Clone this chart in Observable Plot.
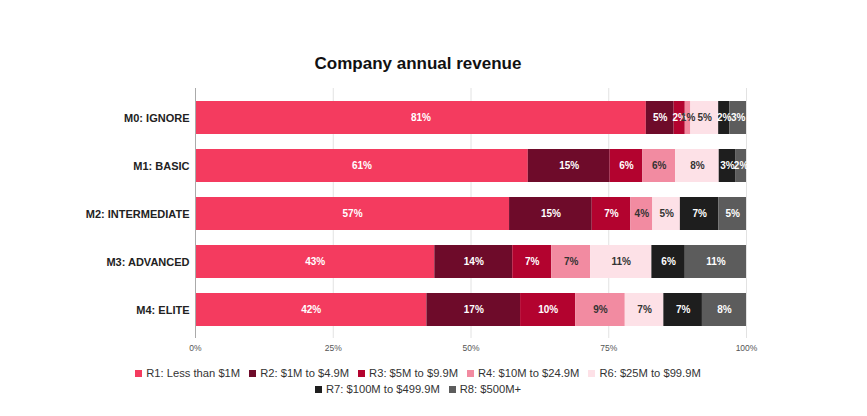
<!DOCTYPE html>
<html><head><meta charset="utf-8">
<script src="https://cdn.jsdelivr.net/npm/d3@7"></script>
<script src="https://cdn.jsdelivr.net/npm/@observablehq/plot@0.6"></script>
<style>
body{margin:0;background:#fff;font-family:"Liberation Sans",Arial,sans-serif;}
#wrap{width:867px;height:416px;position:relative;}
#title{position:absolute;top:52px;left:0;width:836px;text-align:center;font-weight:bold;font-size:17px;color:#111;line-height:24px;}
#chart{position:absolute;top:78px;left:0;}
#legend{position:absolute;top:365px;left:0;width:836px;font-size:11.2px;color:#333;line-height:16px;}
.row{display:flex;justify-content:center;gap:9px;}
.item{display:flex;align-items:center;gap:4px;white-space:nowrap;}
.sw{width:7px;height:7px;display:inline-block;}
</style></head>
<body><div id="wrap"><div id="title">Company annual revenue</div><div id="chart"></div><div id="legend"></div></div>
<script>
const models = ["M0: IGNORE","M1: BASIC","M2: INTERMEDIATE","M3: ADVANCED","M4: ELITE"];
const ranges = ["R1: Less than $1M","R2: $1M to $4.9M","R3: $5M to $9.9M","R4: $10M to $24.9M","R6: $25M to $99.9M","R7: $100M to $499.9M","R8: $500M+"];
const colors = ["#f43b5f","#6e0b2a","#b3032f","#f28ba1","#fde1e7","#1e1e1e","#5c5c5c"];
const r1 = [81,61,57,43,42];
const r2 = [5,15,15,14,17];
const r3 = [2,6,7,7,10];
const r4 = [1,6,4,7,9];
const r6 = [5,8,5,11,7];
const r7 = [2,3,7,6,7];
const r8 = [3,2,5,11,8];
const xTicks = [0,0.25,0.5,0.75,1];
const lightSeries = ["R4: $10M to $24.9M","R6: $25M to $99.9M"];

const series = [r1,r2,r3,r4,r6,r7,r8];
const data = [];
models.forEach((m,i)=>series.forEach((s,j)=>data.push({model:m, range:ranges[j], value:s[i]})));

const chart = Plot.plot({
  width: 836, height: 282,
  marginTop: 10, marginBottom: 22, marginLeft: 195, marginRight: 90,
  style:{fontFamily:"'Liberation Sans',Arial,sans-serif", background:"transparent"},
  x:{domain:[0,1], ticks:xTicks, tickFormat:d=>Math.round(d*100)+"%", label:null, tickSize:0, tickPadding:6, grid:false},
  y:{domain:models, label:null, paddingInner:0.32, paddingOuter:0.16, insetTop:4.75, insetBottom:4.75, tickSize:0, tickPadding:6},
  color:{domain:ranges, range:colors},
  marks:[
    Plot.ruleX(xTicks.slice(1), {stroke:"#e2e2e2", strokeWidth:1}),
    Plot.barX(data, Plot.stackX({x:"value", y:"model", fill:"range", z:"range", order:ranges, offset:"normalize"})),
    Plot.ruleX([0], {stroke:"#aaa", strokeWidth:1}),
    Plot.textX(data, Plot.stackX({x:"value", y:"model", z:"range", order:ranges, offset:"normalize",
      text:d=>lightSeries.includes(d.range)?"":d.value+"%", fill:"white", fontWeight:"bold", fontSize:10})),
    Plot.textX(data, Plot.stackX({x:"value", y:"model", z:"range", order:ranges, offset:"normalize",
      text:d=>lightSeries.includes(d.range)?d.value+"%":"", fill:"#333", fontWeight:"bold", fontSize:10}))
  ]
});
d3.select(chart).selectAll("g[aria-label='y-axis tick label']").attr("font-weight","bold").attr("font-size","11").attr("fill","#222");
d3.select(chart).selectAll("g[aria-label='x-axis tick label']").attr("font-size","8.5").attr("fill","#555");
document.getElementById("chart").appendChild(chart);

const rowsIdx = [[0,1,2,3,4],[5,6]];
const leg = document.getElementById("legend");
rowsIdx.forEach(r=>{
  const row = document.createElement("div"); row.className="row";
  r.forEach(i=>{
    const it=document.createElement("span"); it.className="item";
    it.innerHTML=`<span class="sw" style="background:${colors[i]}"></span>${ranges[i]}`;
    row.appendChild(it);
  });
  leg.appendChild(row);
});
</script></body></html>
